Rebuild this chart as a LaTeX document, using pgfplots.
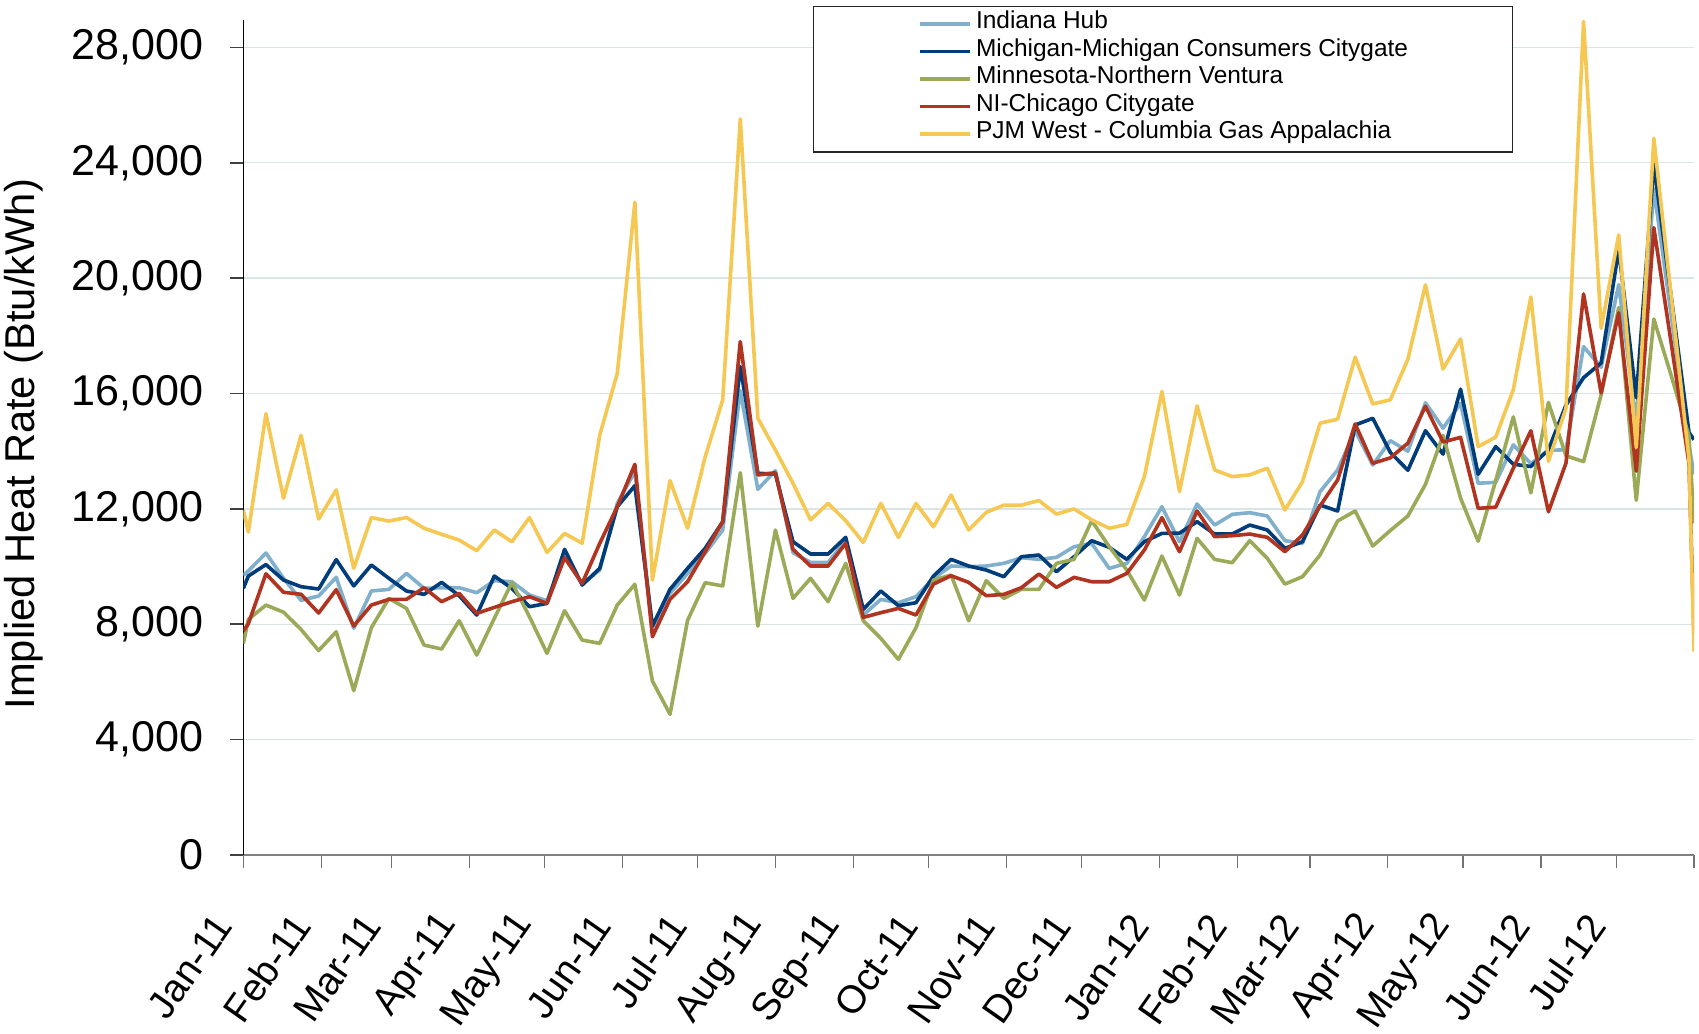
\documentclass[border=0pt]{standalone}
\usepackage{fontspec}
\setmainfont{Liberation Sans}
\usepackage{pgfplots}
\usepackage{pgfplotstable}
\pgfplotsset{compat=1.18}
\definecolor{cind}{RGB}{128,176,204}
\definecolor{cmich}{RGB}{0,61,122}
\definecolor{cminn}{RGB}{155,170,88}
\definecolor{cchi}{RGB}{176,52,32}
\definecolor{cpjm}{RGB}{244,200,82}
\definecolor{gridc}{RGB}{218,230,230}

\pgfplotstableread{
day ind mich minn chi pjm
0 9700 9245 7330 7766 11950
2 9850 9674 8170 8020 11200
9 10470 10070 8665 9750 15300
16 9593 9534 8420 9110 12370
23 8830 9303 7820 9040 14550
30 8980 9222 7090 8390 11650
37 9628 10240 7740 9200 12660
44 7860 9330 5700 7940 9940
51 9153 10054 7881 8667 11700
58 9210 9592 8898 8863 11580
65 9765 9153 8551 8863 11700
72 9245 9037 7280 9268 11330
79 9268 9453 7141 8783 11120
86 9268 8991 8124 9072 10920
93 9095 8320 6933 8378 10550
100 9511 9673 8205 8586 11270
107 9476 9245 9453 8783 10860
114 9014 8609 8263 8956 11700
121 8817 8725 6991 8725 10490
128 10343 10598 8471 10308 11150
135 9395 9361 7453 9418 10810
142 9881 9939 7338 10806 14560
149 12193 12077 8667 12077 16700
156 13300 12806 9387 13545 22630
163 7880 7940 6030 7570 9530
170 9072 9210 4880 8863 12980
177 9765 9939 8139 9476 11330
184 10459 10632 9440 10516 13800
191 11268 11557 9330 11557 15780
198 16100 16932 13256 17800 25520
205 12678 13233 7935 13175 15140
212 13326 13210 11268 13256 14040
219 10482 10863 8898 10598 12890
226 10147 10436 9592 10020 11620
233 10147 10436 8783 10020 12190
240 10887 11014 10112 10806 11590
247 8320 8517 8124 8240 10840
254 8863 9153 7511 8402 12190
261 8748 8644 6783 8551 11010
268 8956 8748 7881 8320 12190
275 9592 9673 9534 9395 11380
282 10020 10251 9707 9684 12480
289 9996 10020 8124 9453 11270
296 10020 9881 9511 8991 11880
303 10112 9650 8898 9037 12130
310 10308 10343 9210 9268 12130
317 10251 10401 9210 9742 12290
324 10320 9823 10112 9280 11820
331 10690 10343 10251 9627 12000
338 10806 10898 11592 9476 11620
345 9939 10667 10690 9476 11330
352 10112 10251 9881 9765 11460
359 11037 10863 8840 10575 13120
366 12077 11152 10366 11696 16070
373 10863 11160 9014 10517 12600
380 12170 11557 10979 11927 15570
387 11441 11129 10251 11037 13350
394 11811 11129 10135 11071 13120
401 11869 11441 10898 11129 13180
408 11754 11268 10286 11014 13410
415 10898 10632 9395 10517 11960
422 10806 10863 9650 11094 12940
429 12597 12135 10401 12100 14970
436 13349 11927 11580 13002 15110
443 14713 14909 11927 14944 17260
450 13522 15141 10713 13580 15640
457 14366 13960 11250 13770 15780
464 14000 13340 11757 14280 17190
471 15680 14710 12850 15560 19770
478 14800 13900 14550 14320 16850
485 15660 16150 12370 14480 17890
492 12890 13200 10880 12020 14160
499 12920 14160 12980 12060 14490
506 14220 13550 15190 13410 16130
513 13570 13470 12555 14710 19350
520 14030 14050 15690 11900 13650
527 14050 15600 13840 13590 15490
534 17626 16550 13640 19450 28900
541 16911 17060 15956 16020 18260
548 19775 21000 18980 18800 21500
555 15000 15850 12297 13310 14130
562 23100 23950 18581 21750 24850
569 18660 19300 16600 17700 19300
576 14200 14650 14524 13570 13730
578 13200 14400 11500 7700 7050
}\datatable

\begin{document}
\begin{tikzpicture}
\begin{axis}[
  at={(87.6pt,64.1pt)}, anchor=south west,
  scale only axis, width=522.2pt, height=300.6pt,
  xmin=0, xmax=578, ymin=0, ymax=28950,
  axis x line*=bottom, axis y line*=left,
  x axis line style={color=black!50, line width=0.8pt},
  y axis line style={color=black, line width=0.6pt},
  xtick={0,31,59,90,120,151,181,212,243,273,304,334,365,396,425,456,486,517,547,578},
  xticklabels={Jan-11,Feb-11,Mar-11,Apr-11,May-11,Jun-11,Jul-11,Aug-11,Sep-11,Oct-11,Nov-11,Dec-11,Jan-12,Feb-12,Mar-12,Apr-12,May-12,Jun-12,Jul-12,{}},
  ytick={0,4000,...,28000},
  scaled y ticks=false,
  /pgf/number format/fixed,
  /pgf/number format/1000 sep={,},
  /pgf/number format/assume math mode=true,
  tick align=outside,
  xtick style={color=black!55, line width=0.45pt},
  ytick style={color=black!75, line width=0.6pt},
  major tick length=4.8pt,
  ymajorgrids, major grid style={color=gridc, line width=0.5pt},
  yticklabel style={font=\fontsize{15.5}{18}\selectfont, anchor=east, inner sep=0pt, xshift=-9.5pt},
  xticklabel style={font=\fontsize{14}{16}\selectfont, yshift=-18pt, xshift=-7pt, rotate=55, anchor=east, inner sep=0pt},
  legend style={at={(0.3924,1.0173)}, anchor=north west, draw=black!85, line width=0.5pt, fill=white,
    inner xsep=37.6pt, inner ysep=2.3pt, font=\fontsize{8.8}{9.9}\selectfont,
    cells={anchor=west}, nodes={inner sep=0pt, text height=5.8pt, text depth=2.5pt},
    row sep=1.6pt, column sep=1.7pt},
  legend image code/.code={\draw[#1] (0pt,0pt) -- (18pt,0pt);},
  every axis plot/.append style={line width=1.3pt, line join=round, mark=none},
]
\addplot[cind] table[x=day,y=ind]{\datatable};
\addlegendentry{Indiana Hub}
\addplot[cmich] table[x=day,y=mich]{\datatable};
\addlegendentry{Michigan-Michigan Consumers Citygate}
\addplot[cminn] table[x=day,y=minn]{\datatable};
\addlegendentry{Minnesota-Northern Ventura}
\addplot[cchi] table[x=day,y=chi]{\datatable};
\addlegendentry{NI-Chicago Citygate}
\addplot[cpjm] table[x=day,y=pjm]{\datatable};
\addlegendentry{PJM West - Columbia Gas Appalachia}
\end{axis}
\node[rotate=90, font=\fontsize{15}{18}\selectfont] at (8.64pt,212pt) {Implied Heat Rate (Btu/kWh)};
\pgfresetboundingbox
\useasboundingbox (0,0) rectangle (611.6pt,371.9pt);
\end{tikzpicture}
\end{document}
